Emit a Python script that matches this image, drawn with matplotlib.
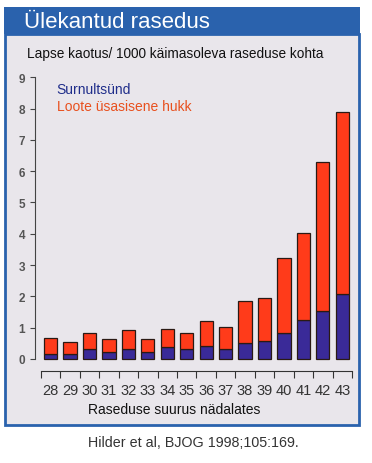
import matplotlib
matplotlib.use("Agg")
import matplotlib.pyplot as plt
from matplotlib.patches import Rectangle

plt.rcParams["font.family"] = ["Liberation Sans", "DejaVu Sans"]

weeks = ["28", "29", "30", "31", "32", "33", "34", "35",
         "36", "37", "38", "39", "40", "41", "42", "43"]
stillbirth = [0.16, 0.16, 0.32, 0.21, 0.32, 0.21, 0.37, 0.32,
              0.41, 0.32, 0.52, 0.57, 0.82, 1.26, 1.52, 2.08]
total_loss = [0.68, 0.55, 0.83, 0.64, 0.91, 0.64, 0.95, 0.83,
              1.21, 1.02, 1.86, 1.94, 3.22, 4.04, 6.29, 7.88]
intrauterine = [t - s for t, s in zip(total_loss, stillbirth)]

W, H = 372, 464
fig = plt.figure(figsize=(W / 100, H / 100), dpi=100)
fig.patch.set_facecolor("white")

BLUE = "#2a62ad"
PANEL = "#e9e6eb"


def px_rect(x0, y0, x1, y1, **kw):
    # rectangle given in pixel coords (origin top-left)
    return Rectangle((x0 / W, 1 - y1 / H), (x1 - x0) / W, (y1 - y0) / H,
                     transform=fig.transFigure, zorder=-5, **kw)


fig.patches.append(px_rect(5, 35, 359, 426, facecolor=PANEL, edgecolor=BLUE, linewidth=2))
fig.patches.append(px_rect(4, 8, 360, 35, facecolor=BLUE, edgecolor="none"))

fig.text(24 / W, 1 - 22 / H, "Ülekantud rasedus", color="white", fontsize=16,
         va="center", ha="left")
fig.text(27 / W, 1 - 54 / H, "Lapse kaotus/ 1000 käimasoleva raseduse kohta",
         color="#111111", fontsize=9.8, va="center", ha="left")
fig.text(193 / W, 1 - 443 / H, "Hilder et al, BJOG 1998;105:169.",
         color="#333333", fontsize=10.3, va="center", ha="center")

ax = fig.add_axes([35 / W, 1 - 385 / H, 317 / W, 313 / H])
ax.set_facecolor("none")

x = list(range(len(weeks)))
ax.bar(x, stillbirth, width=0.68, color="#3a2a98", edgecolor="#2a1a14", linewidth=0.9)
ax.bar(x, intrauterine, bottom=stillbirth, width=0.68, color="#ff3b1a",
       edgecolor="#2a1a14", linewidth=0.9)

ax.set_xlim(-0.8, 15.5)
ax.set_ylim(-0.8, 9.2)

for s in ["top", "right"]:
    ax.spines[s].set_visible(False)
ax.spines["left"].set_bounds(0, 9)
ax.spines["left"].set_color("#444444")
ax.spines["bottom"].set_position(("data", -0.38))
ax.spines["bottom"].set_bounds(-0.5, 15.5)
ax.spines["bottom"].set_color("#333333")

ax.set_yticks(range(10))
ax.tick_params(axis="y", direction="out", length=3.5, color="#444444",
               labelsize=8.5, labelcolor="#555555", pad=3.5)
for lbl in ax.get_yticklabels():
    lbl.set_fontweight("bold")

ax.set_xticks([i - 0.5 for i in range(len(weeks) + 1)])
ax.set_xticklabels([])
ax.tick_params(axis="x", which="major", direction="out", length=5, color="#333333")
ax.set_xticks(x, minor=True)
ax.set_xticklabels(weeks, minor=True)
ax.tick_params(axis="x", which="minor", length=0, labelsize=10.5,
               labelcolor="#333333", pad=9)

fig.text(56 / W, 1 - 90 / H, "Surnultsünd", color="#1f2d8a", fontsize=10,
         va="center", ha="left")
fig.text(57 / W, 1 - 107 / H, "Loote üsasisene hukk", color="#e8501e", fontsize=10,
         va="center", ha="left")
fig.text(174 / W, 1 - 410 / H, "Raseduse suurus nädalates", color="#111111",
         fontsize=10, va="center", ha="center")

fig.savefig("out.png", dpi=100)
